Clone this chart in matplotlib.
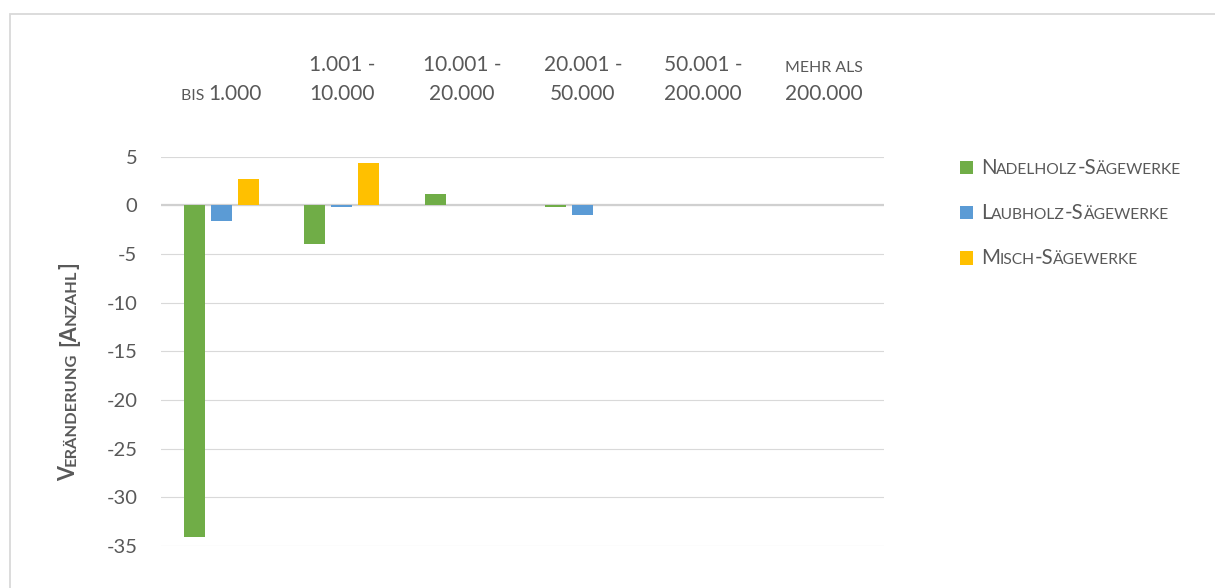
import matplotlib
matplotlib.use("Agg")
import matplotlib.pyplot as plt
import matplotlib.transforms as mtransforms
from matplotlib.offsetbox import TextArea, HPacker, DrawingArea, AnnotationBbox
from matplotlib.patches import Rectangle
from matplotlib.text import Annotation
import numpy as np

# ---------------- data ----------------
cat_line1 = ["", "1.001 -", "10.001 -", "20.001 -", "50.001 -", "mehr als"]
cat_line2 = ["bis 1.000", "10.000", "20.000", "50.000", "200.000", "200.000"]
series_names = ["Nadelholz-Sägewerke", "Laubholz-Sägewerke", "Misch-Sägewerke"]
nadelholz = [-34.1, -4.0, 1.2, -0.2, 0.0, 0.0]
laubholz = [-1.6, -0.2, 0.0, -1.0, 0.0, 0.0]
misch = [2.7, 4.3, 0.0, 0.0, 0.0, 0.0]
series_values = [nadelholz, laubholz, misch]
colors = ["#70AD47", "#5B9BD5", "#FFC000"]
y_ticks = [5, 0, -5, -10, -15, -20, -25, -30, -35]
y_label = "Veränderung [Anzahl]"

FONT = "Lato"
TXT = "#595959"
W, H = 1215, 588
SC = 0.76  # small caps ratio


def smallcaps_runs(s):
    """split string into (is_small, text) runs, lowercase -> small uppercase"""
    runs = []
    for ch in s:
        small = ch.islower()
        if ch == " " and runs:
            small = runs[-1][0]
        txt = ch.upper() if small else ch
        if runs and runs[-1][0] == small:
            runs[-1] = (small, runs[-1][1] + txt)
        else:
            runs.append((small, txt))
    return runs


def sc_box(s, size, color=TXT, weight="normal"):
    kids = []
    for small, t in smallcaps_runs(s):
        kids.append(TextArea(t, textprops=dict(family=FONT, size=size * (SC if small else 1.0),
                                                color=color, weight=weight)))
    return HPacker(children=kids, align="baseline", pad=0, sep=0)


fig = plt.figure(figsize=(W / 100, H / 100), dpi=100)
fig.patch.set_facecolor("white")

# chart-area border
fig.add_artist(Rectangle((10 / W, -0.2), 1.2, (H - 13.5) / H + 0.2, transform=fig.transFigure,
                         fill=False, edgecolor="#d9d9d9", lw=1.3, clip_on=False))

ax = fig.add_axes([161 / W, 1 - 546 / H, (884 - 161) / W, (546 - 156.5) / H])
x = np.arange(len(cat_line2))
bw = 0.175
step = 0.224
for i, (vals, c) in enumerate(zip(series_values, colors)):
    ax.bar(x + (i - 1) * step, vals, width=bw, color=c, zorder=3, label=series_names[i])

ax.set_xlim(-0.5, len(x) - 0.5)
ax.set_ylim(-35, 5)
ax.set_yticks(y_ticks)
ax.set_yticklabels([str(v) for v in y_ticks], family=FONT, fontsize=14.5, color=TXT)
ax.tick_params(axis="y", length=0, pad=17)
ax.set_xticks([])
for s in ax.spines.values():
    s.set_visible(False)
ax.grid(axis="y", color="#d9d9d9", lw=0.8, zorder=0)
ax.axhline(0, color="#d0d0d0", lw=1.6, zorder=2)

# category labels above plot
blend = mtransforms.blended_transform_factory(ax.transData, fig.transFigure)
for xi, l1, l2 in zip(x, cat_line1, cat_line2):
    for txt, ypx in ((l1, 75), (l2, 104)):
        if not txt:
            continue
        ab = AnnotationBbox(sc_box(txt, 15), (xi, 1 - ypx / H), xycoords=blend,
                            box_alignment=(0.5, 0), frameon=False, pad=0,
                            annotation_clip=False)
        fig.add_artist(ab)

# legend
leg_y = [167.7, 212.7, 258.0]
for name, c, yc in zip(series_names, colors, leg_y):
    da = DrawingArea(9.4, 9.4, 0, 0)
    da.add_artist(Rectangle((0, 0), 9.4, 9.4, facecolor=c, edgecolor="none"))
    row = HPacker(children=[da, sc_box(name, 14.8)], align="center", pad=0, sep=5.5)
    ab = AnnotationBbox(row, (960 / W, 1 - yc / H), xycoords="figure fraction",
                        box_alignment=(0, 0.5), frameon=False, pad=0, annotation_clip=False)
    fig.add_artist(ab)

# rotated y label in small caps (chained pieces)
runs = smallcaps_runs(y_label)
prev = None
pending_gap = 0.0
for small, t in runs:
    kw = dict(rotation=90, ha="right", va="bottom", family=FONT, weight="bold",
              color=TXT, fontsize=15.5 * (SC if small else 1.0))
    gap = pending_gap + (4.5 if t.startswith(" ") else 0.0)
    pending_gap = 4.5 if t.endswith(" ") else 0.0
    t = t.strip()
    if prev is None:
        prev = fig.text(79 / W, 1 - 481 / H, t, **kw)
    else:
        a = Annotation(t, xy=(1, 1), xycoords=prev, xytext=(0, gap), textcoords="offset points",
                       annotation_clip=False, **kw)
        fig.add_artist(a)
        prev = a

fig.savefig("out.png", dpi=100, facecolor="white")
